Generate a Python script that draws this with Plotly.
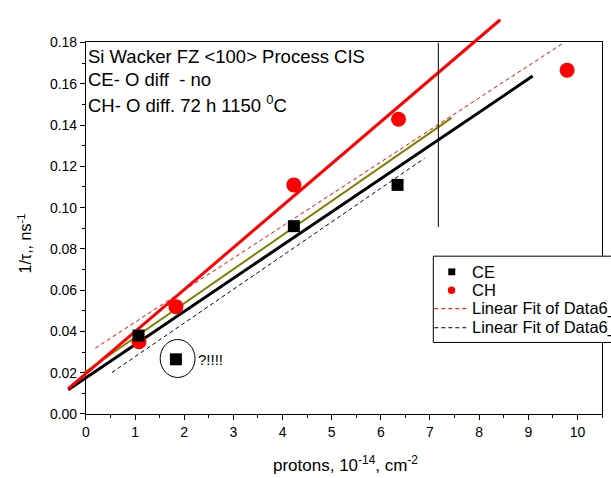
import plotly.graph_objects as go

# ---------------- data ----------------
ce_x = [1.07, 1.83, 4.23, 6.34]
ce_y = [0.038, 0.0265, 0.091, 0.111]
ch_x = [1.08, 1.83, 4.23, 6.36, 9.79]
ch_y = [0.035, 0.052, 0.111, 0.1428, 0.1666]

# fitted / guide lines (start and end points)
red_fit_x = [-0.36, 8.43]
red_fit_y = [0.0123, 0.191]
black_fit_x = [-0.36, 9.09]
black_fit_y = [0.0117, 0.1637]
olive_fit_x = [-0.03, 7.44]
olive_fit_y = [0.0201, 0.1435]
red_dash_x = [0.19, 9.73]
red_dash_y = [0.0319, 0.18]
black_dash_x = [0.53, 6.89]
black_dash_y = [0.0201, 0.1239]

x_ticks = [0, 1, 2, 3, 4, 5, 6, 7, 8, 9, 10]
y_ticks = [0.00, 0.02, 0.04, 0.06, 0.08, 0.10, 0.12, 0.14, 0.16, 0.18]
y_tick_text = ["0.00", "0.02", "0.04", "0.06", "0.08", "0.10", "0.12", "0.14", "0.16", "0.18"]

info_lines = [
    "Si Wacker FZ &lt;100&gt; Process CIS",
    "CE- O diff  - no",
    "CH- O diff. 72 h 1150 <sup>0</sup>C",
]
legend_labels = ["CE", "CH", "Linear Fit of Data6_E", "Linear Fit of Data6_D"]

# ---------------- layout geometry ----------------
FW, FH = 611, 478
L, R, T, B = 60, 8, 8, 64
pw, ph = FW - L - R, FH - T - B
frame_left, frame_top = 86, 35
X0, X1 = 0.0, 10.5
Y0, Y1 = 0.0, 0.18
dx0 = (frame_left - L) / pw
dy1 = (FH - B - frame_top) / ph
x2range = [X0 - dx0 / (1 - dx0) * (X1 - X0), X1]
y2range = [Y0, Y1 + (1 - dy1) / dy1 * (Y1 - Y0)]


def px(xp):
    return (xp - L) / pw


def py(yp):
    return (FH - B - yp) / ph


FONT = "Arial, Liberation Sans, sans-serif"
OLIVE = "#808000"

fig = go.Figure()

# lines (drawn on an overlay axis pair that extends beyond the frame, like the original)
fig.add_trace(go.Scatter(x=red_dash_x, y=red_dash_y, mode="lines",
                         line=dict(color="red", width=1, dash="4px,3px"),
                         xaxis="x2", yaxis="y2", showlegend=False))
fig.add_trace(go.Scatter(x=black_dash_x, y=black_dash_y, mode="lines",
                         line=dict(color="black", width=1, dash="4px,3px"),
                         xaxis="x2", yaxis="y2", showlegend=False))
fig.add_trace(go.Scatter(x=olive_fit_x, y=olive_fit_y, mode="lines",
                         line=dict(color=OLIVE, width=2),
                         xaxis="x2", yaxis="y2", showlegend=False))
fig.add_trace(go.Scatter(x=black_fit_x, y=black_fit_y, mode="lines",
                         line=dict(color="black", width=3),
                         xaxis="x2", yaxis="y2", showlegend=False))
fig.add_trace(go.Scatter(x=red_fit_x, y=red_fit_y, mode="lines",
                         line=dict(color="red", width=3),
                         xaxis="x2", yaxis="y2", showlegend=False))
# markers
fig.add_trace(go.Scatter(x=ch_x, y=ch_y, mode="markers", name="CH",
                         marker=dict(symbol="circle", size=15, color="red", line=dict(width=0)),
                         xaxis="x2", yaxis="y2", showlegend=False, cliponaxis=False))
fig.add_trace(go.Scatter(x=ce_x, y=ce_y, mode="markers", name="CE",
                         marker=dict(symbol="square", size=12, color="black", line=dict(width=0)),
                         xaxis="x2", yaxis="y2", showlegend=False, cliponaxis=False))

axis_common = dict(showgrid=False, zeroline=False, showline=True, mirror=True,
                   linecolor="black", linewidth=1, ticks="outside", ticklen=5,
                   tickwidth=1, tickcolor="black",
                   tickfont=dict(family=FONT, size=14, color="black"))

fig.update_layout(
    width=FW, height=FH,
    margin=dict(l=L, r=R, t=T, b=B),
    paper_bgcolor="white", plot_bgcolor="rgba(0,0,0,0)",
    showlegend=False,
    xaxis=dict(domain=[dx0, 1], range=[X0, X1], anchor="y",
               tickmode="array", tickvals=x_ticks,
               minor=dict(tickmode="array", tickvals=[v + 0.5 for v in x_ticks],
                          ticks="outside", ticklen=3, tickcolor="black"),
               **axis_common),
    yaxis=dict(domain=[0, dy1], range=[Y0, Y1], anchor="x",
               tickmode="array", tickvals=y_ticks, ticktext=y_tick_text,
               minor=dict(tickmode="array", tickvals=[v + 0.01 for v in y_ticks[:-1]],
                          ticks="outside", ticklen=3, tickcolor="black"),
               **axis_common),
    xaxis2=dict(domain=[0, 1], range=x2range, anchor="y2", visible=False),
    yaxis2=dict(domain=[0, 1], range=y2range, anchor="x2", visible=False),
)

shapes = []
# vertical guide line
shapes.append(dict(type="line", xref="x", yref="y", x0=7.17, x1=7.17, y0=0.0905, y1=0.18,
                   line=dict(color="black", width=1)))
# circle round the suspicious point
shapes.append(dict(type="circle", xref="x", yref="y", x0=1.51, x1=2.22, y0=0.0177, y1=0.0361,
                   line=dict(color="black", width=1)))
# legend box
shapes.append(dict(type="rect", xref="paper", yref="paper", x0=px(434), x1=px(660),
                   y0=py(341), y1=py(253), fillcolor="white", line=dict(color="black", width=1)))
# legend symbols
shapes.append(dict(type="rect", xref="paper", yref="paper", x0=px(449), x1=px(456),
                   y0=py(272.5), y1=py(265.5), fillcolor="black", line=dict(width=0)))
shapes.append(dict(type="circle", xref="paper", yref="paper", x0=px(448.5), x1=px(456),
                   y0=py(291.5), y1=py(284), fillcolor="red", line=dict(width=0)))
shapes.append(dict(type="line", xref="paper", yref="paper", x0=px(435), x1=px(467),
                   y0=py(306.5), y1=py(306.5), line=dict(color="red", width=1, dash="4px,3px")))
shapes.append(dict(type="line", xref="paper", yref="paper", x0=px(435), x1=px(467),
                   y0=py(326), y1=py(326), line=dict(color="black", width=1, dash="4px,3px")))
fig.update_layout(shapes=shapes)

ann = []
for i, t in enumerate(info_lines):
    ann.append(dict(text=t, xref="paper", yref="paper", x=px(86), y=py([49, 73, 98][i]),
                    xanchor="left", yanchor="middle", showarrow=False,
                    font=dict(family=FONT, size=18.5, color="black")))
for i, t in enumerate(legend_labels):
    ann.append(dict(text=t, xref="paper", yref="paper", x=px(471), y=py([269, 288, 306.5, 326][i]),
                    xanchor="left", yanchor="middle", showarrow=False,
                    font=dict(family=FONT, size=16.5, color="black")))
ann.append(dict(text="?!!!!", xref="x", yref="y", x=2.24, y=0.0266, xanchor="left",
                yanchor="middle", showarrow=False, font=dict(family=FONT, size=15, color="black")))
ann.append(dict(text="protons, 10<sup>-14</sup>, cm<sup>-2</sup>", xref="paper", yref="paper",
                x=px(346), y=py(465), xanchor="center", yanchor="middle", showarrow=False,
                font=dict(family=FONT, size=17, color="black")))
ann.append(dict(text="1/τ,, ns<sup>-1</sup>", xref="paper", yref="paper", textangle=-90,
                x=px(25), y=py(240), xanchor="center", yanchor="middle", showarrow=False,
                font=dict(family=FONT, size=16, color="black")))
fig.update_layout(annotations=ann)

fig.write_html("out.html")
